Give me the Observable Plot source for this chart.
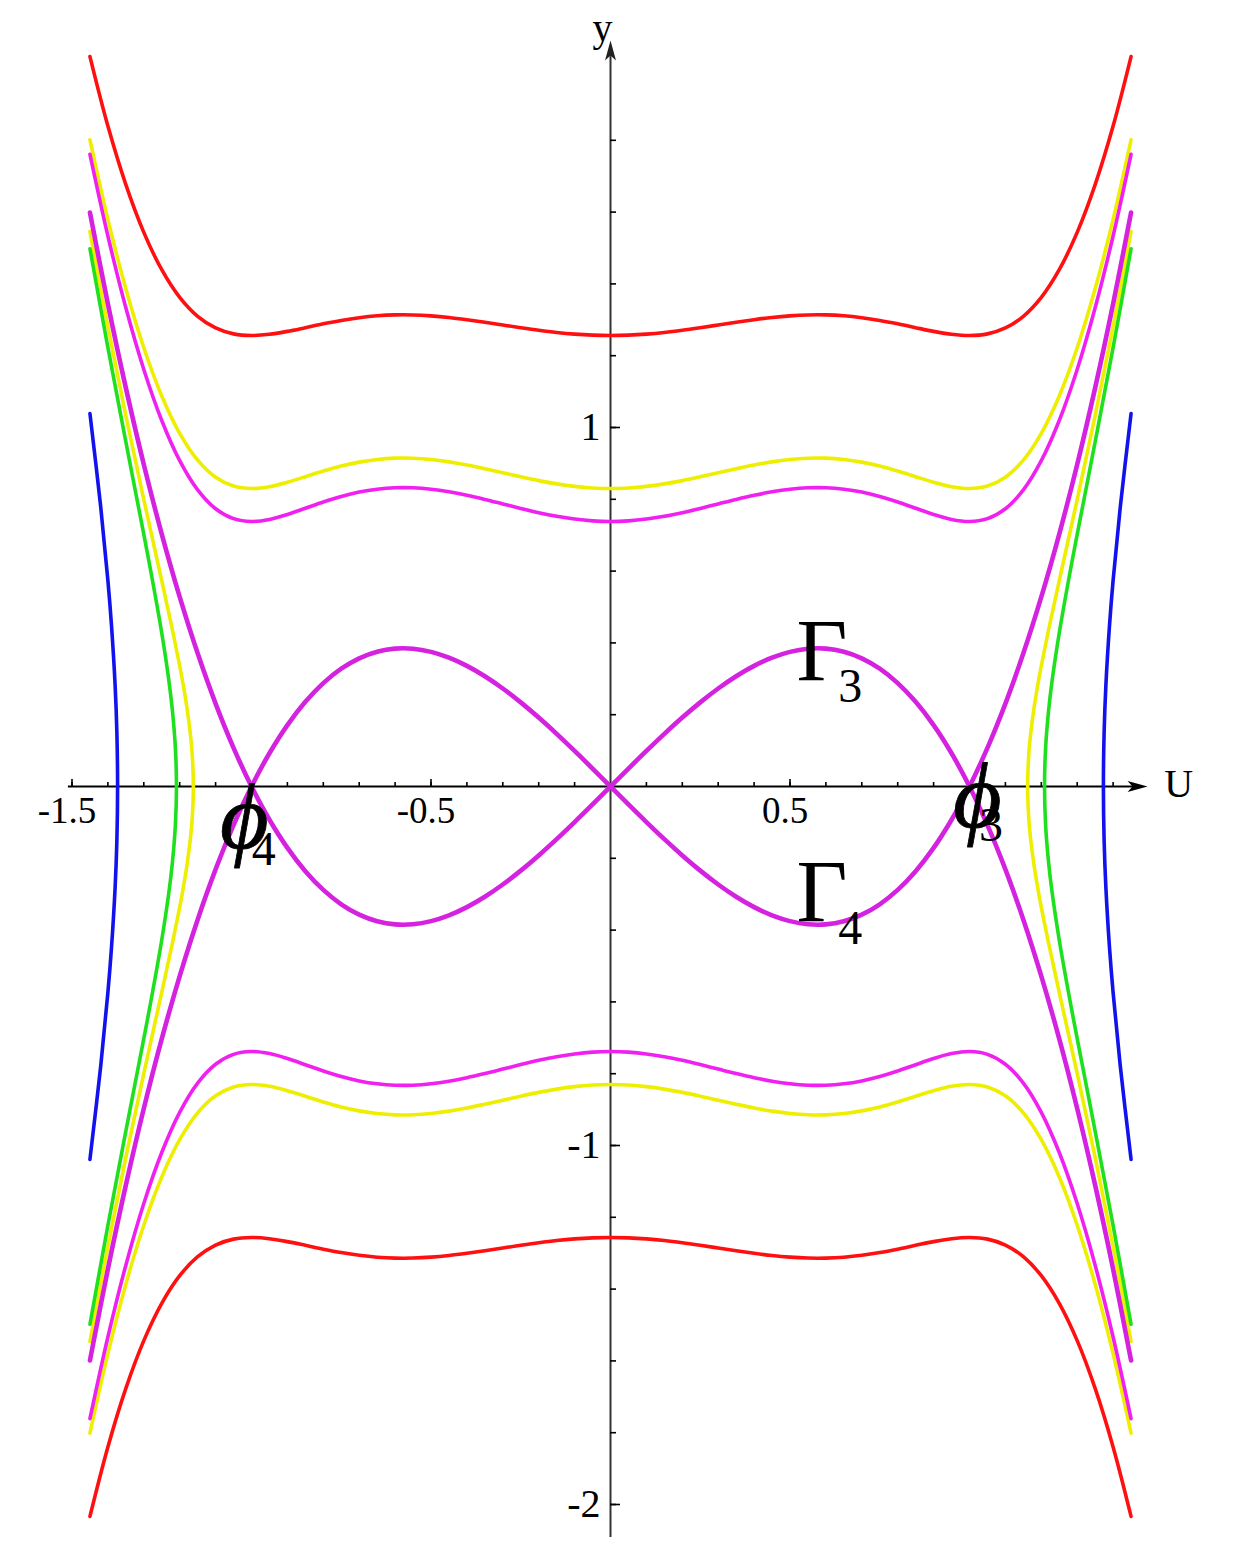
<!DOCTYPE html>
<html>
<head>
<meta charset="utf-8">
<script src="https://cdn.jsdelivr.net/npm/d3@7"></script>
<script src="https://cdn.jsdelivr.net/npm/@observablehq/plot@0.6"></script>
<style>
  html, body { margin: 0; padding: 0; background: #ffffff; }
  #chart svg { display: block; }
</style>
</head>
<body>
<div id="chart"></div>
<script>
// ---- Data (upper-right quadrant; curves are symmetric in U and y) ----
const U = [0,0.05,0.10,0.15,0.20,0.25,0.30,0.35,0.40,0.45,0.50,0.55,0.60,0.65,0.70,0.75,0.80,0.85,0.90,0.95,1.00,1.05,1.10,1.15,1.20,1.25,1.30,1.35,1.40,1.45];
const redY = [1.2562,1.2572,1.2601,1.2647,1.2708,1.2779,1.2855,1.2932,1.3003,1.3065,1.3110,1.3135,1.3136,1.3111,1.3059,1.2983,1.2888,1.2781,1.2678,1.2596,1.2562,1.2608,1.2773,1.3098,1.3626,1.4396,1.5436,1.6766,1.8396,2.0331];
const yellowY = [0.8301,0.8316,0.8359,0.8429,0.8520,0.8625,0.8738,0.8850,0.8955,0.9043,0.9108,0.9144,0.9146,0.9110,0.9036,0.8926,0.8786,0.8629,0.8475,0.8352,0.8301,0.8370,0.8616,0.9091,0.9838,1.0878,1.2221,1.3863,1.5797,1.8013];
const magentaY = [0.7382,0.7399,0.7449,0.7527,0.7628,0.7745,0.7871,0.7996,0.8111,0.8208,0.8280,0.8320,0.8322,0.8282,0.8201,0.8079,0.7924,0.7750,0.7578,0.7440,0.7382,0.7461,0.7736,0.8261,0.9076,1.0195,1.1617,1.3334,1.5334,1.7609];
const separatrixY = [0,0.049875,0.099,0.146625,0.192,0.234375,0.273,0.307125,0.336,0.358875,0.375,0.383625,0.384,0.375375,0.357,0.328125,0.288,0.235875,0.171,0.092625,0,-0.107625,-0.231,-0.370875,-0.528,-0.703125,-0.897,-1.110375,-1.344,-1.598625];

const yellowInnerU = [1.162,1.165,1.17,1.18,1.19,1.20,1.22,1.25,1.30,1.35,1.40,1.45];
const yellowInnerY = [0,0.0871,0.1438,0.2209,0.2821,0.3364,0.4352,0.5734,0.7994,1.0331,1.2809,1.5460];
const greenU = [1.209,1.212,1.22,1.23,1.25,1.28,1.30,1.35,1.40,1.45];
const greenY = [0,0.1069,0.2084,0.2939,0.4275,0.5968,0.7021,0.9599,1.2226,1.4980];
const blueU = [1.373,1.375,1.38,1.39,1.40,1.42,1.45];
const blueY = [0,0.1506,0.2840,0.4490,0.5739,0.7785,1.0386];

const xTicks = [-1.5,-1.4,-1.3,-1.2,-1.1,-1.0,-0.9,-0.8,-0.7,-0.6,-0.5,-0.4,-0.3,-0.2,-0.1,0.1,0.2,0.3,0.4,0.5,0.6,0.7,0.8,0.9,1.0,1.1,1.2,1.3,1.4];
const xTickLabels = [{v:-1.5,t:"-1.5"},{v:-0.5,t:"-0.5"},{v:0.5,t:"0.5"}];
const yTicks = [-2.0,-1.8,-1.6,-1.4,-1.2,-1.0,-0.8,-0.6,-0.4,-0.2,0.2,0.4,0.6,0.8,1.0,1.2,1.4,1.6,1.8];
const yTickLabels = [{v:1,t:"1"},{v:-1,t:"-1"},{v:-2,t:"-2"}];

const axisExtent = {xMin:-1.51, xMax:1.496, yMin:-2.092, yMax:2.078};

// annotation labels (data coordinates)
const bigLabels = [
  {u:0.589, y:0.375, t:"Γ"},
  {u:0.589, y:-0.295, t:"Γ"}
];
const subLabels = [
  {u:0.668, y:0.279, t:"3"},
  {u:0.668, y:-0.396, t:"4"}
];
const phiLabels = [
  {u:-1.020, y:-0.088, t:"ϕ"},
  {u:1.022, y:-0.030, t:"ϕ"}
];
const phiSubs = [
  {u:-0.966, y:-0.176, t:"4"},
  {u:1.060, y:-0.110, t:"3"}
];

// ---- Build tables from the arrays (mirroring the read quadrant) ----
function evenBranch(xs, ys, sy) {
  const pts = [];
  for (let i = xs.length - 1; i >= 0; i--) pts.push({u: -xs[i], y: sy * ys[i]});
  for (let i = 1; i < xs.length; i++) pts.push({u: xs[i], y: sy * ys[i]});
  return pts;
}
function oddBranch(xs, ys, s) {
  const pts = [];
  for (let i = xs.length - 1; i >= 0; i--) pts.push({u: -xs[i], y: -s * ys[i]});
  for (let i = 1; i < xs.length; i++) pts.push({u: xs[i], y: s * ys[i]});
  return pts;
}
function sideBranch(xs, ys, sx) {
  const pts = [];
  for (let i = xs.length - 1; i >= 0; i--) pts.push({u: sx * xs[i], y: -ys[i]});
  for (let i = 1; i < xs.length; i++) pts.push({u: sx * xs[i], y: ys[i]});
  return pts;
}

const rows = [];
function add(id, color, pts) { pts.forEach(p => rows.push({...p, id, color})); }
add("redT", "red", evenBranch(U, redY, 1));
add("redB", "red", evenBranch(U, redY, -1));
add("yelT", "yellow", evenBranch(U, yellowY, 1));
add("yelB", "yellow", evenBranch(U, yellowY, -1));
add("magT", "magenta", evenBranch(U, magentaY, 1));
add("magB", "magenta", evenBranch(U, magentaY, -1));
add("yiR", "yellow", sideBranch(yellowInnerU, yellowInnerY, 1));
add("yiL", "yellow", sideBranch(yellowInnerU, yellowInnerY, -1));
add("grR", "green", sideBranch(greenU, greenY, 1));
add("grL", "green", sideBranch(greenU, greenY, -1));
add("blR", "blue", sideBranch(blueU, blueY, 1));
add("blL", "blue", sideBranch(blueU, blueY, -1));

const sepRows = [];
oddBranch(U, separatrixY, 1).forEach(p => sepRows.push({...p, id: "s1"}));
oddBranch(U, separatrixY, -1).forEach(p => sepRows.push({...p, id: "s2"}));

const colorMap = {red: "#ff1010", yellow: "#eeee00", magenta: "#f020f0", green: "#1ee01e", blue: "#1212ee"};

const arrowRight = { draw(ctx) { ctx.moveTo(0, 0); ctx.lineTo(-20, -5.5); ctx.lineTo(-15, 0); ctx.lineTo(-20, 5.5); ctx.closePath(); } };
const arrowUp = { draw(ctx) { ctx.moveTo(0, 0); ctx.lineTo(-5.5, 20); ctx.lineTo(0, 15); ctx.lineTo(5.5, 20); ctx.closePath(); } };

const serif = "'Liberation Serif', 'Times New Roman', serif";

const chart = Plot.plot({
  width: 1233,
  height: 1552,
  marginLeft: 71.5,
  marginRight: 84.5,
  marginTop: 32.1,
  marginBottom: 12.1,
  x: {domain: [-1.5, 1.5], axis: null},
  y: {domain: [-2.1, 2.1], axis: null},
  style: {background: "#ffffff", overflow: "visible"},
  marks: [
    // axes
    Plot.ruleY([0], {x1: axisExtent.xMin, x2: axisExtent.xMax - 0.03, stroke: "#000", strokeWidth: 2}),
    Plot.ruleX([0], {y1: axisExtent.yMin, y2: axisExtent.yMax - 0.03, stroke: "#333", strokeWidth: 2}),
    Plot.ruleX(xTicks, {x: d => d, y1: 0, y2: 0, insetTop: -4, stroke: "#000", strokeWidth: 1.6}),
    Plot.ruleX(xTickLabels, {x: "v", y1: 0, y2: 0, insetTop: -7, stroke: "#000", strokeWidth: 1.6}),
    Plot.ruleY(yTicks, {y: d => d, x1: 0, x2: 0, insetRight: -6, stroke: "#000", strokeWidth: 1.6}),
    Plot.ruleY(yTickLabels, {y: "v", x1: 0, x2: 0, insetRight: -10, stroke: "#000", strokeWidth: 1.6}),
    Plot.dot([{u: axisExtent.xMax, y: 0}], {x: "u", y: "y", symbol: arrowRight, fill: "#000", stroke: "none"}),
    Plot.dot([{u: 0, y: axisExtent.yMax}], {x: "u", y: "y", symbol: arrowUp, fill: "#222", stroke: "none"}),
    Plot.text(xTickLabels, {x: "v", y: 0, text: "t", dx: -5, dy: 25, fontSize: 37, fontFamily: serif, fill: "#000"}),
    Plot.text(yTickLabels, {x: 0, y: "v", text: "t", dx: -10, textAnchor: "end", fontSize: 40, fontFamily: serif, fill: "#000"}),
    Plot.text([{u: 0, y: axisExtent.yMax}], {x: "u", y: "y", text: () => "y", dx: -8, dy: -12, fontSize: 40, fontFamily: serif, fill: "#000"}),
    Plot.text([{u: axisExtent.xMax, y: 0}], {x: "u", y: "y", text: () => "U", dx: 31, dy: -2, fontSize: 40, fontFamily: serif, fill: "#000"}),
    // curves
    Plot.line(rows, {x: "u", y: "y", z: "id", stroke: d => colorMap[d.color], strokeWidth: 3.6, curve: "catmull-rom"}),
    Plot.line(sepRows, {x: "u", y: "y", z: "id", stroke: "#d422e0", strokeWidth: 4.6, curve: "catmull-rom"}),
    // annotations
    Plot.text(bigLabels, {x: "u", y: "y", text: "t", fontSize: 88, fontFamily: serif, fill: "#000"}),
    Plot.text(subLabels, {x: "u", y: "y", text: "t", fontSize: 48, fontFamily: serif, fill: "#000"}),
    Plot.text(phiLabels, {x: "u", y: "y", text: "t", fontSize: 94, fontStyle: "italic", fontFamily: serif, fill: "#000", stroke: "#000", strokeWidth: 0.8}),
    Plot.text(phiSubs, {x: "u", y: "y", text: "t", fontSize: 48, fontFamily: serif, fill: "#000"})
  ]
});
document.getElementById("chart").appendChild(chart);
</script>
</body>
</html>
